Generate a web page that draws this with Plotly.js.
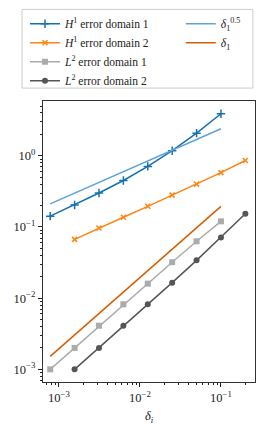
<!DOCTYPE html>
<html><head><meta charset="utf-8">
<script src="https://cdn.plot.ly/plotly-3.0.1.min.js"></script>
<style>html,body{margin:0;padding:0;background:#fff}#c{width:266px;height:428px}</style>
</head><body><div id="c"></div>
<script>
// data
const xDomain1 = [0.00078125, 0.0015625, 0.003125, 0.00625, 0.0125, 0.025, 0.05, 0.1];
const xDomain2 = [0.0015625, 0.003125, 0.00625, 0.0125, 0.025, 0.05, 0.1, 0.2];
const h1Domain1 = [0.142, 0.204, 0.30, 0.45, 0.71, 1.18, 2.08, 3.9];
const h1Domain2 = [0.067, 0.097, 0.137, 0.195, 0.28, 0.40, 0.58, 0.86];
const l2Domain1 = [0.001, 0.002, 0.0041, 0.0082, 0.016, 0.032, 0.063, 0.12];
const l2Domain2 = [0.001, 0.002, 0.0041, 0.0082, 0.0165, 0.034, 0.071, 0.153];
const refX = [0.00078125, 0.1];
const refHalf = [0.211, 2.4];
const refOne = [0.00152, 0.195];
const xTickVals = [1e-3, 1e-2, 1e-1];
const xTickText = ['10<sup>−3</sup>', '10<sup>−2</sup>', '10<sup>−1</sup>'];
const yTickVals = [1e-3, 1e-2, 1e-1, 1];
const yTickText = ['10<sup>−3</sup>', '10<sup>−2</sup>', '10<sup>−1</sup>', '10<sup>0</sup>'];

const minorVals = [];
for (let e = -4; e <= 1; e++) for (let m = 2; m <= 9; m++) minorVals.push(m * Math.pow(10, e));

const F = 'Liberation Serif';
const FS = 12.5;
const LFS = 11.5;
const traces = [
  {x: xDomain1, y: h1Domain1, name: '<i>H</i><sup>1</sup> error domain 1', mode: 'lines+markers',
   line: {color: '#1571ad', width: 1.5}, marker: {symbol: 'cross-thin-open', size: 6, line: {color: '#1571ad', width: 1.5}}, legend: 'legend'},
  {x: xDomain2, y: h1Domain2, name: '<i>H</i><sup>1</sup> error domain 2', mode: 'lines+markers',
   line: {color: '#ff8412', width: 1.5}, marker: {symbol: 'x-thin-open', size: 5, line: {color: '#ff8412', width: 1.5}}, legend: 'legend'},
  {x: xDomain1, y: l2Domain1, name: '<i>L</i><sup>2</sup> error domain 1', mode: 'lines+markers',
   line: {color: '#ababab', width: 1.5}, marker: {symbol: 'square', size: 6, color: '#ababab'}, legend: 'legend'},
  {x: xDomain2, y: l2Domain2, name: '<i>L</i><sup>2</sup> error domain 2', mode: 'lines+markers',
   line: {color: '#555555', width: 1.5}, marker: {symbol: 'circle', size: 6, color: '#555555'}, legend: 'legend'},
  {x: refX, y: refHalf, name: '<i>δ</i><sub>1</sub><sup>0.5</sup>', mode: 'lines',
   line: {color: '#5ea2d8', width: 1.5}, legend: 'legend2'},
  {x: refX, y: refOne, name: '<i>δ</i><sub>1</sub>', mode: 'lines',
   line: {color: '#d55e00', width: 1.5}, legend: 'legend2'}
];
const axCommon = {type: 'log', showgrid: false, zeroline: false, ticks: 'outside', ticklen: 4, tickwidth: 1,
  tickcolor: '#222222', showline: true, linecolor: '#333333', linewidth: 1.2, mirror: true,
  tickfont: {family: F, size: FS, color: '#222222'}, tickmode: 'array',
  minor: {tickmode: 'array', tickvals: minorVals, ticks: 'outside', ticklen: 2, tickcolor: '#222222', showgrid: false}};
const layout = {
  width: 266, height: 428, margin: {l: 43, r: 11, t: 100, b: 46},
  paper_bgcolor: '#ffffff', plot_bgcolor: '#ffffff', font: {family: F, size: FS, color: '#222222'},
  xaxis: Object.assign({}, axCommon, {range: [-3.196, -0.58], tickvals: xTickVals, ticktext: xTickText,
     title: {text: '<i>δ</i><sub><i>i</i></sub>', font: {family: F, size: FS}, standoff: 7}}),
  yaxis: Object.assign({}, axCommon, {range: [-3.178, 0.77], tickvals: yTickVals, ticktext: yTickText}),
  legend: {x: -0.085, y: 1.322, xanchor: 'left', yanchor: 'top', bgcolor: 'rgba(0,0,0,0)', borderwidth: 0,
     font: {family: F, size: LFS, color: '#222222'}, tracegroupgap: 0, itemwidth: 30},
  legend2: {x: 0.65, y: 1.322, xanchor: 'left', yanchor: 'top', bgcolor: 'rgba(0,0,0,0)', borderwidth: 0,
     font: {family: F, size: LFS, color: '#222222'}, tracegroupgap: 0, itemwidth: 30},
  shapes: [{type: 'rect', xref: 'paper', yref: 'paper', x0: -0.099, x1: 0.99, y0: 1.046, y1: 1.326,
     line: {color: '#cccccc', width: 1}, fillcolor: 'rgba(0,0,0,0)'}],
  showlegend: true
};
Plotly.newPlot('c', traces, layout, {displayModeBar: false});
</script></body></html>
